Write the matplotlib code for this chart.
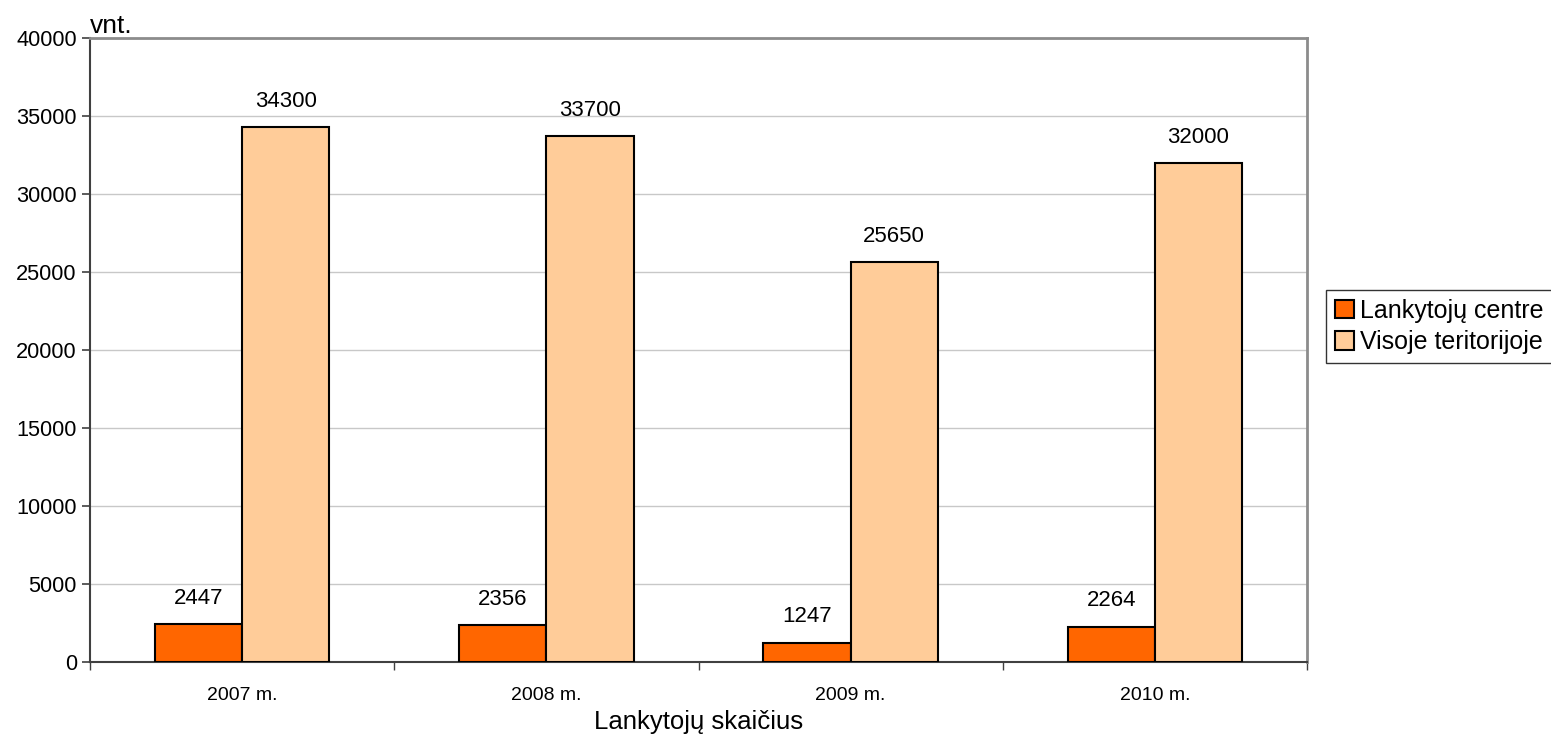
import matplotlib.pyplot as plt
import numpy as np

plt.rcParams['font.family'] = ['Liberation Sans', 'DejaVu Sans']

years = ['2007 m.', '2008 m.', '2009 m.', '2010 m.']
centre = [2447, 2356, 1247, 2264]
visoje = [34300, 33700, 25650, 32000]

fig = plt.figure(figsize=(15.51, 7.35), dpi=100)
ax = fig.add_axes([90 / 1551, 1 - 662 / 735, (1307 - 90) / 1551, (662 - 38) / 735])

x = np.arange(len(years))
w = 0.287
b1 = ax.bar(x - w / 2, centre, w, color='#FF6600', edgecolor='black', linewidth=1.5,
            label='Lankytojų centre', zorder=3)
b2 = ax.bar(x + w / 2, visoje, w, color='#FFCC99', edgecolor='black', linewidth=1.5,
            label='Visoje teritorijoje', zorder=3)

for bars, vals in ((b1, centre), (b2, visoje)):
    for r, v in zip(bars, vals):
        ax.annotate(str(v), (r.get_x() + r.get_width() / 2, v), xytext=(0, 11),
                    textcoords='offset points', ha='center', va='bottom', fontsize=16)

ax.set_xlim(-0.5, 3.5)
ax.set_ylim(0, 40000)
ax.set_yticks(np.arange(0, 40001, 5000))
ax.yaxis.grid(True, color='#c8c8c8', linewidth=1, zorder=0)
ax.tick_params(axis='y', labelsize=15.7, length=6, width=1.2, direction='out', color='#404040')

ax.set_xticks(x)
ax.set_xticklabels(years, fontsize=14)
ax.tick_params(axis='x', length=0, pad=18)
ax.set_xticks(np.arange(-0.5, 4, 1), minor=True)
ax.tick_params(axis='x', which='minor', length=6, width=1, color='#404040')

for s in ('top', 'right'):
    ax.spines[s].set_color('#8c8c8c')
    ax.spines[s].set_linewidth(2)
ax.spines['left'].set_color('#404040')
ax.spines['left'].set_linewidth(1.5)
ax.spines['bottom'].set_color('#404040')
ax.spines['bottom'].set_linewidth(1.5)

ax.set_xlabel('Lankytojų skaičius', fontsize=18.5, labelpad=4)
ax.text(0, 1.0, 'vnt.', transform=ax.transAxes, fontsize=19, ha='left', va='bottom')

leg = fig.legend(handles=[b1, b2], loc='upper left', bbox_to_anchor=(1326 / 1551, 1 - 290 / 735),
                 fontsize=18, frameon=True, fancybox=False, edgecolor='black',
                 handlelength=0.75, handleheight=0.75, handletextpad=0.25,
                 borderpad=0.35, labelspacing=0.3, borderaxespad=0)
leg.get_frame().set_linewidth(1)

fig.savefig('out.png', dpi=100)
